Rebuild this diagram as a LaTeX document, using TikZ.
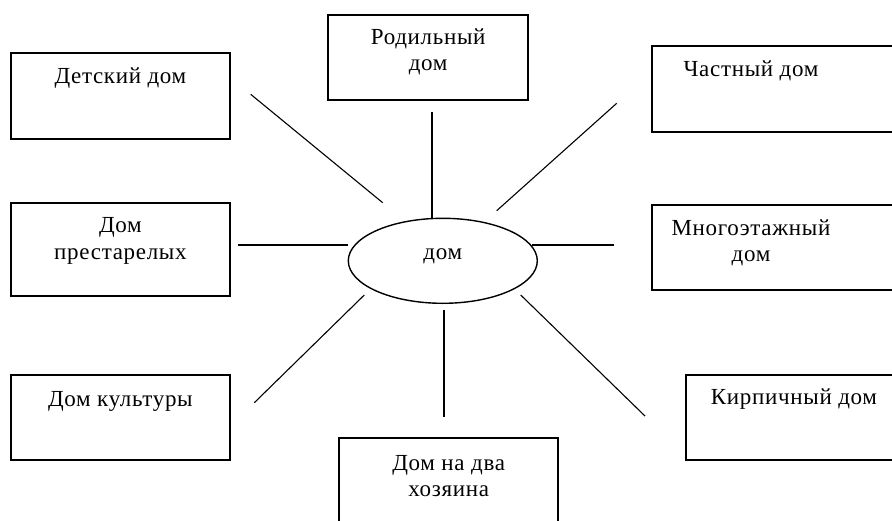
\documentclass[tikz,border=0pt]{standalone}
\usepackage{fontspec}
\setmainfont{Liberation Serif}[LetterSpace=3]
\usetikzlibrary{shapes}

\begin{document}
\begin{tikzpicture}[x=1pt,y=-1pt,
    box/.style = {rectangle, draw, line width=1.8pt, minimum width=219pt,
      minimum height=86pt, anchor=north west, inner sep=0pt},
    word/.style = {anchor=base, align=center, inner sep=0pt,
      font=\fontsize{23}{26.5}\selectfont},
    ray/.style = {line width=1.1pt}]
\useasboundingbox (0,0) rectangle (892,520);
\clip (0,0) rectangle (892,520);
% boxes
\node[box] (detskij) at (10,51.7) {};
\node[box, minimum width=200pt, minimum height=85pt] (roddom) at (327.3,14) {};
\node[box, minimum width=260pt] (chastnyj) at (651,45) {};
\node[box, minimum height=92.7pt] (prestar) at (10,202.3) {};
\node[box, minimum width=260pt, minimum height=85.3pt] (mnogo) at (651,204) {};
\node[box, minimum height=85pt] (kultura) at (10,374) {};
\node[box, minimum width=260pt, minimum height=85pt] (kirpich) at (685,374) {};
\node[box] (dvoe) at (338.3,437.3) {};
% texts (base = last line)
\node[word] (t-detskij) at ([yshift=-31.6pt]detskij.north) {Детский дом};
\node[word] (t-roddom) at ([yshift=-56.8pt]roddom.north) {Родильный\\дом};
\node[word] (t-chastnyj) at ([xshift=100pt,yshift=-31pt]chastnyj.north west) {Частный дом};
\node[word] (t-prestar) at ([yshift=-56.9pt]prestar.north) {Дом\\престарелых};
\node[word] (t-mnogo) at ([xshift=100pt,yshift=-57.5pt]mnogo.north west) {Многоэтажный\\дом};
\node[word] (t-kultura) at ([yshift=-32pt]kultura.north) {Дом культуры};
\node[word] (t-kirpich) at ([xshift=109pt,yshift=-30pt]kirpich.north west) {Кирпичный дом};
\node[word] (t-dvoe) at ([yshift=-59.2pt]dvoe.north) {Дом на два\\хозяина};
% centre
\node[ellipse, draw, line width=1.4pt, minimum width=189pt, minimum height=85pt,
  inner sep=0pt] (dom) at (442.8,260.8) {};
\node[word] (t-dom) at ([yshift=1.5pt]dom.center) {дом};
% rays
\coordinate (a1) at (250.7,94.3);  \coordinate (a2) at (382.7,202.7);
\coordinate (b1) at (432,112.3);   \coordinate (b2) at (432,218.3);
\coordinate (c1) at (616.7,103.3); \coordinate (c2) at (496.7,210.7);
\coordinate (d1) at (237.7,245);   \coordinate (d2) at (347.7,245);
\coordinate (e1) at (531.7,245);   \coordinate (e2) at (614,245);
\coordinate (f1) at (254.3,402.7); \coordinate (f2) at (364.3,295);
\coordinate (g1) at (444,310);     \coordinate (g2) at (444,416.7);
\coordinate (h1) at (520.7,295);   \coordinate (h2) at (645,416);
\foreach \p/\q in {a1/a2,b1/b2,c1/c2,d1/d2,e1/e2,f1/f2,g1/g2,h1/h2}
  \draw[ray] (\p) -- (\q);
\end{tikzpicture}
\end{document}
